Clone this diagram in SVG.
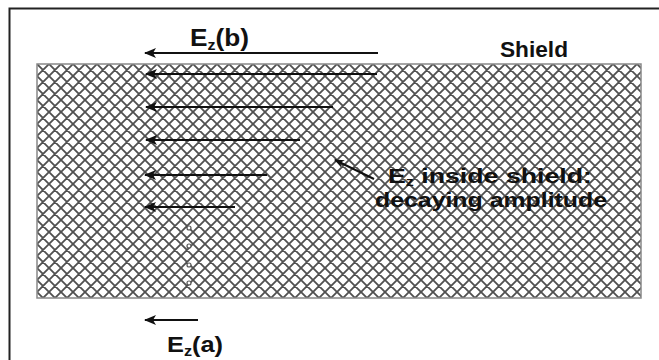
<svg xmlns="http://www.w3.org/2000/svg" width="659" height="360" viewBox="0 0 659 360">
<defs>
<pattern id="hatch" patternUnits="userSpaceOnUse" x="37" y="64" width="12" height="12">
<rect width="12" height="12" fill="#ffffff"/>
<path d="M0,0 L12,12 M0,12 L12,0 M-1,1 L1,-1 M11,13 L13,11 M-1,11 L1,13 M11,-1 L13,1" stroke="#505050" stroke-width="1.8"/>
</pattern>
<marker id="ah" markerWidth="12" markerHeight="10" refX="11" refY="5" orient="auto" markerUnits="userSpaceOnUse">
<path d="M0,0 L12,5 L0,10 L3,5 Z" fill="#111"/>
</marker>
<marker id="ah2" markerWidth="10" markerHeight="8" refX="9" refY="4" orient="auto" markerUnits="userSpaceOnUse">
<path d="M0,0 L10,4 L0,8 L3,4 Z" fill="#111"/>
</marker>
</defs>
<style>
.lbl{font-family:"Liberation Sans",Arial,sans-serif;font-weight:bold;fill:#111}
.arr{stroke:#111;stroke-width:2.2;fill:none;marker-end:url(#ah)}
.dot{fill:#fff;stroke:#555;stroke-width:1.2}
</style>
<rect x="0" y="0" width="659" height="360" fill="#fff"/>
<path d="M9.5,362 V8.5 H662" fill="none" stroke="#222" stroke-width="2"/>
<g id="shield">
<rect x="37" y="64" width="604" height="234" fill="url(#hatch)" stroke="#888" stroke-width="1.5"/>
<text class="lbl" x="500" y="57" font-size="22" textLength="68" lengthAdjust="spacingAndGlyphs">Shield</text>
</g>
<g id="connectors">
<line class="arr" x1="378" y1="53" x2="145" y2="53"/>
<line class="arr" x1="377" y1="74" x2="146" y2="74"/>
<line class="arr" x1="333" y1="107" x2="146" y2="107"/>
<line class="arr" x1="300" y1="140" x2="146" y2="140"/>
<line class="arr" x1="267" y1="175" x2="145" y2="175"/>
<line class="arr" x1="235" y1="207" x2="145" y2="207"/>
<line class="arr" x1="198" y1="320" x2="145" y2="320"/>
<line stroke="#111" stroke-width="2" marker-end="url(#ah2)" x1="374" y1="179" x2="335" y2="160"/>
</g>
<g id="dots">
<circle class="dot" cx="189" cy="228" r="2"/>
<circle class="dot" cx="189" cy="246" r="2"/>
<circle class="dot" cx="189" cy="265" r="2"/>
<circle class="dot" cx="189" cy="283" r="2"/>
</g>
<g id="label-b">
<text class="lbl" x="190" y="46" font-size="23" textLength="59" lengthAdjust="spacingAndGlyphs">E<tspan font-size="14" dy="4">z</tspan><tspan dy="-4">(b)</tspan></text>
</g>
<g id="label-inside">
<text class="lbl" x="388" y="183" font-size="20" textLength="204" lengthAdjust="spacingAndGlyphs">E<tspan font-size="12" dy="3">z</tspan><tspan dy="-3"> inside shield:</tspan></text>
<text class="lbl" x="375" y="207" font-size="20" textLength="232" lengthAdjust="spacingAndGlyphs">decaying amplitude</text>
</g>
<g id="label-a">
<text class="lbl" x="167" y="352" font-size="22" textLength="56" lengthAdjust="spacingAndGlyphs">E<tspan font-size="14" dy="4">z</tspan><tspan dy="-4">(a)</tspan></text>
</g>
</svg>
